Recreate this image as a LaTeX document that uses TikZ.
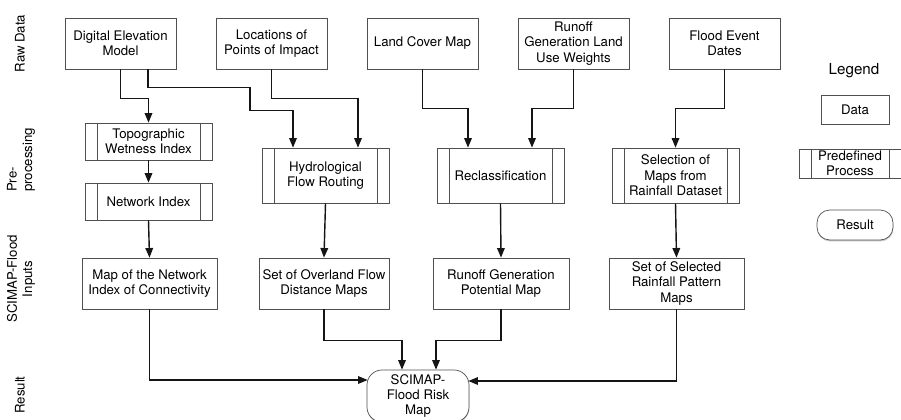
\documentclass[tikz,border=0pt]{standalone}
\usepackage{fontspec}
\setmainfont{TeX Gyre Heros}
\usetikzlibrary{arrows.meta,calc,shadows}

\definecolor{fcline}{HTML}{151515}
\definecolor{fcbox}{HTML}{505050}

\begin{document}
\begin{tikzpicture}[x=0.025cm, y=-0.025cm, font=\fontsize{9.4}{11}\selectfont,
    box/.style={draw=fcbox, line width=0.5pt, fill=white, align=center,
                inner sep=1pt, minimum height=1.275cm,
                drop shadow={shadow xshift=0.2pt, shadow yshift=-1pt, opacity=0.45}},
    predef/.style={box, path picture={
        \draw[fcbox, line width=0.5pt]
          ([xshift=0.3cm]path picture bounding box.north west) --
          ([xshift=0.3cm]path picture bounding box.south west);
        \draw[fcbox, line width=0.5pt]
          ([xshift=-0.3cm]path picture bounding box.north east) --
          ([xshift=-0.3cm]path picture bounding box.south east);}},
    outcome/.style={box, rounded corners=0.375cm},
    flow/.style={fcline, line width=1pt, -{Triangle[length=0.24cm, width=0.19cm]}},
    rowlbl/.style={rotate=90, align=center, inner sep=1pt}]

\useasboundingbox (0,0) rectangle (901,420);

% --- row titles -------------------------------------------------------------
\node[rowlbl] (rowraw) at (20,43.5) {Raw Data};
\node[rowlbl, align=left] (rowpre) at (21,160) {Pre-\\processing};
\node[rowlbl] (rowinp) at (21,279) {SCIMAP-Flood\\Inputs};
\node[rowlbl] (rowres) at (20,395) {Result};

% --- raw data -- x/name/label -------------------------------------------------
\foreach \x/\name/\text in {%
    120.5/dem/{Digital Elevation\\Model},
    271.5/loc/{Locations of\\Points of Impact},
    422.5/lcm/{Land Cover Map},
    573.5/rlu/{Runoff\\Generation Land\\Use Weights},
    724.5/fed/{Flood Event\\Dates}}
  \node[box, minimum width=2.775cm, name=\name] at (\x,43.5) {\text};

% --- pre-processing -----------------------------------------------------------
\node[predef, minimum width=3.175cm, minimum height=0.925cm] (twi) at (148.5,141.5)
  {Topographic\\Wetness Index};
\node[predef, minimum width=3.175cm, minimum height=0.925cm] (ni) at (148.5,201.5)
  {Network Index};
\node[predef, minimum width=3.175cm, minimum height=1.375cm] (hfr) at (325.5,175.5)
  {Hydrological\\Flow Routing};
\node[predef, minimum width=3.175cm, minimum height=1.375cm] (rec) at (500.5,175.5)
  {Reclassification};
\node[predef, minimum width=3.175cm, minimum height=1.375cm] (sel) at (675.5,175.5)
  {Selection of\\Maps from\\Rainfall Dataset};

% --- model inputs -- x/width/name/label ---------------------------------------
\foreach \x/\w/\name/\text in {%
    149.5/3.375cm/nic/{Map of the Network\\Index of Connectivity},
    324/3.25cm/ovl/{Set of Overland Flow\\Distance Maps},
    501/3.4cm/rgp/{Runoff Generation\\Potential Map},
    676.5/3.375cm/srp/{Set of Selected\\Rainfall Pattern\\Maps}}
  \node[box, minimum width=\w, name=\name] at (\x,283.5) {\text};

% --- result -------------------------------------------------------------------
\node[outcome, minimum width=2.55cm, minimum height=1.3cm] (res) at (418,396)
  {SCIMAP-\\Flood Risk\\Map};

% --- legend -------------------------------------------------------------------
\node[font=\fontsize{10.8}{13}\selectfont] (leg) at (854,71) {Legend};
\node[box, minimum width=1.7cm, minimum height=0.725cm] (legdata) at (855,109.5) {Data};
\node[predef, minimum width=2.55cm, minimum height=0.725cm] (legpre) at (850,163.5)
  {Predefined\\Process};
\node[outcome, rounded corners=0.32cm, minimum width=1.9cm, minimum height=0.75cm]
  (legres) at (855,225) {Result};

% --- connectors ---------------------------------------------------------------
\draw[flow] (dem.south) -- ++(0,29) -| (twi.north);
\draw[flow] ($(dem.south)+(27.5,0)$) -- ++(0,18) -- ++(102,0) -- ++(0,23)
  -| ($(hfr.north)+(-32.5,0)$);
\draw[flow] (loc.south) -- ++(0,29) -| ($(hfr.north)+(32.5,0)$);
\draw[flow] (lcm.south) -- ++(0,39) -| ($(rec.north)+(-32.5,0)$);
\draw[flow] (rlu.south) -- ++(0,39) -| ($(rec.north)+(31.5,0)$);
\draw[flow] (fed.south) -- ++(0,39) -| (sel.north);

\draw[flow] (twi.south) -- (ni.north);
\draw[flow] (ni.south) -- (nic.north);
\draw[flow] (hfr.south) -- (ovl.north);
\draw[flow] (rec.south) -- (rgp.north);
\draw[flow] (sel.south) -- (srp.north);

\draw[flow] (nic.south) |- ($(res.west)+(1,-16)$);
\draw[flow] (ovl.south) -- ++(0,31) -| ($(res.north)+(-16,0)$);
\draw[flow] (rgp.south) -- ++(0,31) -| ($(res.north)+(18,0)$);
\draw[flow] (srp.south) |- ($(res.east)+(-1,-15)$);
\end{tikzpicture}
\end{document}
